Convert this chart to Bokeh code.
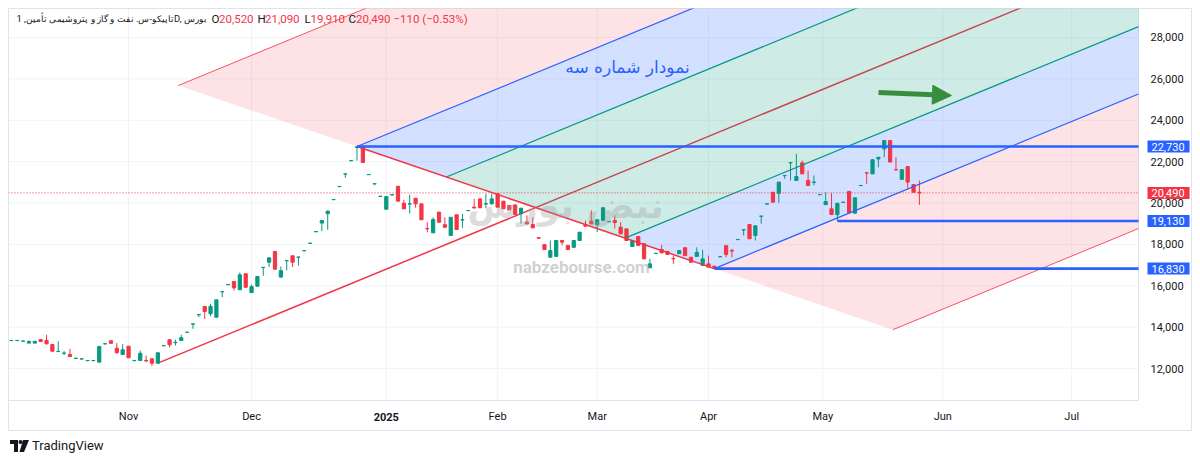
import numpy as np
from bokeh.plotting import figure
from bokeh.models import (ColumnDataSource, Label, Arrow, NormalHead, Div, Range1d)
from bokeh.layouts import column
from bokeh.embed import file_html
from bokeh.resources import INLINE
from bokeh.core.properties import value

# ---------------- data (daily candles, bar index 1..156) ----------------
opens = [13350, 13350, 13320, 13230, 13230, 13400, 13360, 13160, 12820, 12740,
         12680, 12490, 12460, 12380, 12380, 12310, 13190, 13340, 12980, 12680,
         13080, 12380, 12390, 12390, 12470, 12260, 13100, 13390, 13250, 13360,
         13750, 14150, 14600, 15000, 14650, 14480, 15710, 16050, 16210, 15810,
         16580, 15670, 15980, 16880, 17140, 17660, 16420, 17210, 17450, 17380,
         17690, 18050, 18610, 19030, 19480, 20160, 20790, 21400, 22040, 22680,
         22700, 21370, 20920, 20320, 19700, 20390, 20810, 19990, 19950, 20230,
         19960, 18770, 18560, 19560, 18950, 18430, 19430, 19180, 19630, 19800,
         20200, 19950, 19960, 20450, 20090, 19880, 19910, 19480, 19070, 18960,
         18330, 17990, 17380, 17420, 18190, 17950, 17860, 18190, 18960, 19120,
         18950, 19160, 19090, 19160, 18830, 18750, 17900, 18380, 18030, 16870,
         17560, 17750, 17660, 17320, 17550, 17840, 17380, 17420, 16980, 17060,
         16950, 17400, 17940, 17700, 18230, 18700, 18960, 18430, 19360, 19950,
         20520, 20470, 21320, 21940, 21090, 21940, 21090, 21000, 20400, 19920,
         19720, 19440, 20030, 20560, 19510, 20840, 21460, 21410, 22130, 22620,
         23020, 21610, 21140, 21760, 20890, 20520]
highs = [13380, 13370, 13340, 13360, 13330, 13410, 13630, 13180, 13310, 12840,
         12950, 12510, 12480, 12400, 12400, 13080, 13210, 13350, 13230, 13180,
         13090, 12400, 12870, 12630, 12480, 12770, 13120, 13400, 13400, 13630,
         13770, 14160, 14620, 15010, 15130, 15330, 15730, 16070, 16220, 16640,
         16590, 16060, 16460, 16900, 17360, 17670, 16930, 17230, 17460, 17390,
         17710, 18070, 18630, 19170, 19620, 20180, 20810, 21410, 22060, 22730,
         22730, 21390, 20940, 20340, 20320, 20410, 20820, 20160, 20410, 20240,
         19970, 19070, 19310, 19570, 19310, 19320, 19440, 19480, 19650, 20200,
         20210, 20440, 20450, 20460, 20100, 19890, 19920, 19760, 19400, 19310,
         18340, 18000, 18190, 18200, 18200, 17960, 18200, 18600, 19150, 19640,
         19200, 19780, 19120, 19400, 19070, 18760, 18200, 18390, 18040, 17300,
         17580, 17980, 17670, 17460, 17710, 17850, 17390, 17860, 17740, 17460,
         16960, 17420, 17950, 17790, 18250, 18710, 18970, 18910, 19370, 19970,
         20530, 21020, 21330, 21950, 22380, 22050, 21570, 21330, 20420, 20520,
         20470, 20000, 20050, 20570, 20260, 20860, 21460, 22100, 22220, 23030,
         23030, 22220, 21620, 21770, 20900, 21090]
lows = [13340, 13340, 13310, 13220, 13220, 13300, 13150, 12820, 12810, 12660,
        12570, 12480, 12450, 12370, 12370, 12300, 13180, 13210, 12740, 12670,
        12510, 12370, 12380, 12300, 12130, 12250, 13090, 13030, 13110, 13350,
        13740, 13920, 14480, 14400, 14530, 14470, 15450, 16040, 15770, 15800,
        15920, 15660, 15970, 16480, 16900, 16790, 16410, 16740, 16900, 16980,
        17680, 18040, 18600, 18640, 18710, 20150, 20780, 21220, 22030, 22050,
        21950, 21360, 20910, 20310, 19690, 20380, 20080, 19710, 19490, 19770,
        19180, 18590, 18550, 19060, 18820, 18420, 18710, 18800, 19620, 19740,
        19760, 19770, 19940, 19790, 19710, 19660, 19430, 19010, 18980, 18790,
        18290, 17740, 17370, 17410, 17950, 17740, 17850, 18180, 18870, 18980,
        18590, 19150, 19080, 18760, 18500, 18180, 17890, 17940, 17290, 16860,
        17550, 17580, 17500, 17060, 17540, 17450, 17130, 17410, 16970, 16890,
        16830, 17390, 17380, 17370, 18220, 18430, 18260, 18190, 19000, 19940,
        20030, 20010, 21170, 21090, 21080, 21400, 20840, 20850, 20390, 19910,
        19430, 19130, 20020, 19520, 19500, 20830, 20930, 21400, 21730, 22210,
        21970, 21590, 21130, 20690, 20510, 19910]
closes = [13360, 13360, 13330, 13310, 13320, 13310, 13200, 12840, 12830, 12750,
          12580, 12500, 12470, 12390, 12390, 13070, 13200, 13220, 12760, 12910,
          12520, 12390, 12740, 12370, 12260, 12760, 13110, 13150, 13270, 13490,
          13760, 14160, 14610, 14760, 15010, 15320, 15720, 16060, 15900, 16530,
          15930, 15960, 16450, 16890, 17350, 16800, 16730, 17220, 17140, 17390,
          17700, 18060, 18620, 19160, 19610, 20170, 20800, 21410, 22050, 22720,
          21960, 21380, 20930, 20330, 20310, 20400, 20090, 19720, 19960, 19960,
          19190, 18750, 19200, 19070, 18830, 19310, 18720, 19190, 19640, 19760,
          19770, 19970, 20200, 19800, 19720, 19670, 19440, 19750, 18990, 18800,
          18300, 17750, 17700, 18190, 18110, 17750, 18190, 18590, 18880, 18990,
          19190, 19770, 19110, 19060, 18510, 18190, 18190, 17950, 17300, 17060,
          17570, 17590, 17510, 17300, 17700, 17460, 17140, 17620, 17300, 16900,
          16840, 17410, 17510, 17680, 18240, 18710, 18270, 18900, 19370, 19960,
          20040, 21010, 21330, 21950, 21280, 21410, 20850, 21010, 20410, 20070,
          19440, 19990, 20040, 19530, 20250, 20850, 21450, 22090, 22210, 23020,
          21980, 21600, 21610, 21010, 20520, 20490]

price_ticks = [12000, 14000, 16000, 18000, 20000, 22000, 24000, 26000, 28000]
month_ticks = [21, 42, 65, 84, 101, 120, 139.5, 160, 182]
month_labels = ["Nov", "Dec", "2025", "Feb", "Mar", "Apr", "May", "Jun", "Jul"]

# drawings (anchors in bar index / price)
pitchfork_x = [26, 60, 121]          # handle, upper fork point, lower fork point
pitchfork_y = [12260, 22730, 16830]
hline_levels = [22730, 19130, 16830]
hline_start = [60, 142, 121]
last_price = 20490
header_values = ["20,520", "21,090", "19,910", "20,490"]
header_change = "\u2212110 (\u22120.53%)"
title_text = "تاپیکو-س. نفت و گاز و پتروشیمی تأمین, 1D, بورس"
note_text = "نمودار شماره سه"

UP, DOWN = "#089981", "#f23645"
BLUE, TEAL, RED = "#2962ff", "#089981", "#f23645"
FONT = "Roboto"
TXT = "#131722"

# ---------------- geometry: the frame covers the whole chart incl. scales ----------------
FL, FT, FW, FH = 8, 8, 1184, 423              # frame in page px
BAR_PX = 1130 / (193.4 - 0.51)                # px per bar
PRICE_PX = 392 / (29401 - 10456)              # px per price unit
X0 = 0.51
X1 = X0 + FW / BAR_PX
Y1 = 29401
Y0 = Y1 - FH / PRICE_PX


def px(xp):
    return X0 + (xp - FL) / BAR_PX


def py(yp):
    return Y1 - (yp - FT) / PRICE_PX


XC = px(1138)      # right edge of the price pane
YC = py(400)       # bottom edge of the price pane

p = figure(width=FW, height=FH, x_range=Range1d(X0, X1), y_range=Range1d(Y0, Y1),
           output_backend="svg", toolbar_location=None,
           min_border_left=0, min_border_right=0, min_border_top=0, min_border_bottom=0)
p.axis.visible = False
p.grid.visible = False
p.outline_line_color = "#e0e3eb"
p.background_fill_color = "white"
p.border_fill_color = "white"

# ---------------- grid & scales ----------------
GRID = "#f0f3fa"
p.segment(x0=month_ticks, y0=[YC] * len(month_ticks), x1=month_ticks, y1=[Y1] * len(month_ticks),
          line_color=GRID, line_width=1)
p.segment(x0=[X0] * len(price_ticks), y0=price_ticks, x1=[XC] * len(price_ticks), y1=price_ticks,
          line_color=GRID, line_width=1)
p.segment(x0=[XC, X0], y0=[YC, YC], x1=[XC, XC], y1=[Y1, YC], line_color="#e0e3eb", line_width=1)

ytick_src = ColumnDataSource(dict(x=[px(1150)] * len(price_ticks), y=price_ticks,
                                  t=[f"{v:,}" for v in price_ticks]))
p.text("x", "y", "t", source=ytick_src, text_font=value(FONT),
       text_font_size="11px", text_color=TXT, text_baseline="middle", text_align="left")
xtick_src = ColumnDataSource(dict(x=month_ticks, y=[py(416)] * len(month_ticks), t=month_labels,
                                  s=["bold" if m == "2025" else "normal" for m in month_labels]))
p.text("x", "y", "t", source=xtick_src, text_font=value(FONT), text_font_style="s",
       text_font_size="11px", text_color=TXT, text_baseline="middle", text_align="center")

# ---------------- pitchfork geometry ----------------
P1 = np.array([pitchfork_x[0], pitchfork_y[0]], dtype=float)
P2 = np.array([pitchfork_x[1], pitchfork_y[1]], dtype=float)
P3 = np.array([pitchfork_x[2], pitchfork_y[2]], dtype=float)
M = (P2 + P3) / 2
d = M - P1


def far(S):
    t = (XC - S[0]) / d[0]
    return S + t * d


def lev(L, side):
    return M + L * ((P2 if side == 0 else P3) - M)


# median line (under the fills)
Ef = far(M)
p.line([P1[0], Ef[0]], [P1[1], Ef[1]], line_color=RED, line_width=1.5)

fill_bands = [(0.0, 0.5, TEAL, 0.2), (0.5, 1.0, BLUE, 0.2), (1.0, 2.0, RED, 0.14)]
for side in (0, 1):
    for a, b, col, al in fill_bands:
        Sa, Sb = lev(a, side), lev(b, side)
        Ea, Eb = far(Sa), far(Sb)
        p.patch([Sa[0], Sb[0], Eb[0], Ea[0]], [Sa[1], Sb[1], Eb[1], Ea[1]],
                fill_color=col, fill_alpha=al, line_color=None)

# ---------------- candles ----------------
n = len(opens)
xs = np.arange(1, n + 1)
o, h, l, c = (np.array(v, dtype=float) for v in (opens, highs, lows, closes))
colors = [UP if cc >= oo else DOWN for oo, cc in zip(o, c)]
src = ColumnDataSource(dict(x=xs, top=np.maximum(o, c), bottom=np.minimum(o, c),
                            high=h, low=l, color=colors))
p.segment("x", "low", "x", "high", source=src, line_color="color", line_width=1)
p.vbar("x", 0.55, "top", "bottom", source=src, fill_color="color", line_color="color", line_width=1)

# ---------------- pitchfork lines (over candles) ----------------
level_lines = [(0.5, TEAL, 1.2), (1.0, BLUE, 1.2), (2.0, "#f7525f", 1.0)]
for side in (0, 1):
    for L, col, w in level_lines:
        S = lev(L, side)
        E = far(S)
        p.line([S[0], E[0]], [S[1], E[1]], line_color=col, line_width=w)
p.line([P2[0], P3[0]], [P2[1], P3[1]], line_color=RED, line_width=1.5)

# horizontal lines
p.segment(x0=hline_start, y0=hline_levels, x1=[XC] * len(hline_levels), y1=hline_levels,
          line_color=BLUE, line_width=2.6)

# last price dotted line
p.segment(x0=[X0], y0=[last_price], x1=[XC], y1=[last_price], line_color=RED,
          line_dash="1 2", line_width=1)

# ---------------- watermark ----------------
p.add_layout(Label(x=px(565), y=py(205), text="نبض بورس", text_font="DejaVu Sans",
                   text_font_size="36px", text_color="#9e9e9e", text_alpha=0.35,
                   text_align="center", text_baseline="middle", text_font_style="bold"))
p.add_layout(Label(x=px(581), y=py(266), text="nabzebourse.com", text_font=FONT,
                   text_font_size="17px", text_color="#a8a8a8", text_alpha=0.55,
                   text_align="center", text_baseline="middle", text_font_style="bold"))

# annotation text and arrow
p.add_layout(Label(x=px(627), y=py(66), text=note_text, text_font="DejaVu Sans",
                   text_font_size="17px", text_color=BLUE, text_align="center",
                   text_baseline="middle"))
p.add_layout(Arrow(end=NormalHead(size=19, fill_color="#388e3c", line_color="#388e3c"),
                   x_start=px(878), y_start=py(92), x_end=px(951), y_end=py(95),
                   line_color="#388e3c", line_width=5))

# ---------------- header ----------------
hy = py(18)
p.add_layout(Label(x=px(16), y=hy, text=title_text, text_font=FONT, text_font_size="9.4px",
                   text_color=TXT, text_baseline="middle", text_align="left"))
letters = ["O", "H", "L", "C"]
letter_px = [211, 257, 304, 348]
value_px = [218.5, 264.5, 310, 355.5]
for let, lp, val, vp in zip(letters, letter_px, header_values, value_px):
    p.add_layout(Label(x=px(lp), y=hy, text=let, text_font=FONT, text_font_size="11.5px",
                       text_color=TXT, text_baseline="middle"))
    p.add_layout(Label(x=px(vp), y=hy, text=val, text_font=FONT, text_font_size="11.5px",
                       text_color=RED, text_baseline="middle"))
p.add_layout(Label(x=px(393), y=hy, text=header_change, text_font=FONT, text_font_size="11.5px",
                   text_color=RED, text_baseline="middle"))

# price tags on the right scale
tag_vals = hline_levels + [last_price]
tag_cols = [BLUE, BLUE, BLUE, RED]
for v, col in zip(tag_vals, tag_cols):
    p.add_layout(Label(x=px(1147), y=v, text=f"{v:,}", text_font=FONT, text_font_size="11px",
                       text_color="white", text_baseline="middle",
                       background_fill_color=col,
                       padding=dict(left=4, right=5, top=2, bottom=2)))

logo = Div(text=(
    '<div style="display:flex;align-items:center;gap:3px;font-family:Roboto,sans-serif;'
    'font-size:13px;color:#131722;">'
    '<svg width="19" height="12" viewBox="0 0 19 12">'
    '<rect x="0" y="0" width="8" height="4" fill="#131722"/>'
    '<rect x="4" y="0" width="4" height="12" fill="#131722"/>'
    '<circle cx="10.5" cy="2" r="2" fill="#131722"/>'
    '<polygon points="13,0 19,0 14,12 9.5,12" fill="#131722"/>'
    '</svg><span>TradingView</span></div>'), margin=(6, 0, 0, 2))

layout = column(p, logo, spacing=0, margin=(8, 0, 0, 8))
open("out.html", "w").write(file_html(layout, INLINE))
